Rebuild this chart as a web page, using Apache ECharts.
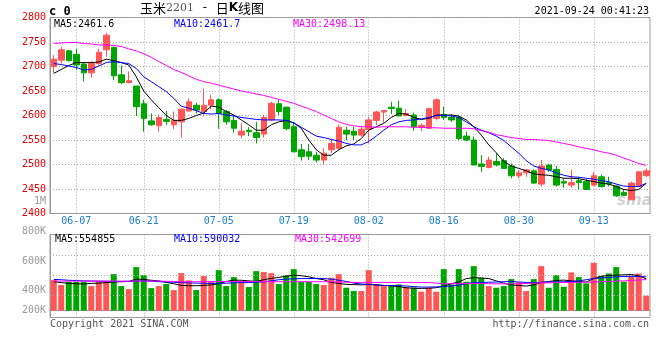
<!DOCTYPE html>
<html><head><meta charset="utf-8">
<script src="https://cdn.jsdelivr.net/npm/echarts@6/dist/echarts.min.js"></script>
<style>html,body{margin:0;padding:0;background:#fff}#c{width:660px;height:360px}</style>
</head><body><div id="c"></div>
<script>
const dates = ['06-02','06-03','06-04','06-07','06-08','06-09','06-10','06-11','06-15','06-16','06-17','06-18','06-21','06-22','06-23','06-24','06-25','06-28','06-29','06-30',
'07-01','07-02','07-05','07-06','07-07','07-08','07-09','07-12','07-13','07-14','07-15','07-16','07-19','07-20','07-21','07-22','07-23','07-26','07-27','07-28','07-29','07-30',
'08-02','08-03','08-04','08-05','08-06','08-09','08-10','08-11','08-12','08-13','08-16','08-17','08-18','08-19','08-20','08-23','08-24','08-25','08-26','08-27','08-30','08-31',
'09-01','09-02','09-03','09-06','09-07','09-08','09-09','09-10','09-13','09-14','09-15','09-16','09-17','09-22','09-23','09-24'];
const labelDates = ['06-07','06-21','07-05','07-19','08-02','08-16','08-30','09-13'];
const opens  = [2700,2713,2732,2725,2705,2687,2706,2734,2739,2683,2667,2660,2624,2589,2579,2592,2581,2587,2609,2621,2608,2621,2632,2608,2590,2560,2570,2565,2562,2591,2624,2617,2577,2530,2526,2519,2509,2530,2533,2570,2568,2560,2572,2590,2607,2617,2615,2600,2601,2576,2574,2594,2602,2596,2596,2558,2550,2501,2494,2506,2508,2497,2477,2483,2487,2460,2499,2490,2465,2458,2467,2465,2458,2475,2463,2456,2443,2428,2455,2477];
const closes = [2715,2734,2712,2703,2687,2706,2729,2764,2681,2667,2671,2618,2594,2581,2596,2588,2590,2613,2628,2611,2621,2632,2604,2587,2574,2568,2567,2555,2596,2625,2608,2573,2526,2516,2517,2509,2523,2543,2576,2562,2560,2572,2591,2607,2610,2614,2599,2604,2577,2580,2614,2632,2596,2591,2553,2550,2499,2496,2509,2499,2492,2477,2483,2489,2462,2497,2489,2458,2462,2463,2463,2449,2477,2455,2460,2436,2437,2462,2485,2487];
const lows   = [2687,2706,2710,2693,2669,2677,2703,2720,2672,2664,2666,2599,2567,2579,2567,2581,2572,2555,2608,2604,2599,2613,2573,2581,2565,2553,2558,2543,2555,2589,2601,2570,2525,2508,2509,2504,2499,2524,2530,2550,2550,2557,2543,2581,2585,2603,2599,2598,2569,2568,2573,2590,2591,2587,2550,2548,2499,2485,2492,2496,2492,2472,2472,2475,2461,2455,2485,2455,2453,2453,2449,2449,2455,2453,2455,2434,2436,2428,2455,2475];
const highs  = [2723,2740,2734,2736,2707,2711,2736,2769,2741,2702,2690,2661,2632,2604,2602,2610,2608,2614,2635,2626,2655,2642,2635,2611,2601,2585,2576,2587,2601,2628,2632,2618,2587,2542,2542,2526,2533,2553,2582,2577,2577,2577,2596,2610,2611,2628,2630,2613,2606,2584,2616,2635,2618,2603,2601,2567,2557,2519,2516,2523,2513,2502,2489,2490,2490,2509,2500,2497,2472,2489,2475,2470,2485,2479,2475,2458,2449,2465,2487,2492];
const ma5  = [2686,2694,2702,2708,2708,2708,2709,2715,2712,2708,2703,2679,2650,2632,2616,2600,2590,2590,2594,2600,2605,2619,2617,2608,2601,2591,2581,2570,2570,2581,2587,2590,2585,2574,2550,2530,2519,2519,2530,2538,2542,2553,2570,2577,2584,2596,2604,2603,2596,2592,2594,2601,2601,2601,2599,2591,2577,2560,2540,2524,2506,2497,2492,2487,2481,2479,2478,2475,2472,2472,2471,2468,2465,2462,2460,2455,2449,2447,2449,2461.6];
const ma10 = [2706,2704,2701,2698,2693,2694,2701,2708,2710,2708,2706,2696,2679,2669,2659,2649,2635,2619,2615,2610,2604,2603,2604,2601,2599,2596,2594,2592,2591,2591,2591,2590,2585,2576,2567,2558,2555,2551,2548,2543,2540,2540,2547,2558,2570,2581,2587,2590,2591,2593,2596,2600,2600,2599,2596,2587,2577,2570,2565,2558,2549,2536,2523,2508,2497,2492,2489,2483,2478,2475,2474,2472,2470,2467,2465,2460,2456,2455,2455,2461.7];
const ma30 = [2747,2748,2749,2749,2747,2746,2744,2744,2743,2741,2736,2732,2726,2719,2710,2702,2694,2688,2681,2674,2669,2666,2662,2658,2654,2650,2647,2644,2641,2637,2633,2629,2625,2619,2614,2608,2601,2594,2587,2582,2579,2577,2577,2576,2577,2577,2577,2577,2576,2576,2575,2575,2574,2574,2574,2574,2573,2569,2566,2561,2558,2555,2553,2551,2551,2550,2549,2546,2543,2540,2536,2533,2530,2526,2523,2519,2513,2508,2502,2498.13];
const volumes = [534,447,505,505,505,429,516,516,638,429,376,760,620,394,429,464,359,655,528,359,603,505,707,429,586,505,412,690,673,655,464,620,725,505,505,464,447,574,638,400,342,342,707,458,447,447,458,406,406,330,400,330,725,458,725,505,777,574,429,400,429,551,493,342,551,777,400,620,417,667,586,476,835,609,649,760,505,609,649,261].map(v => v * 1000);
const volMa5  = [505,490,476,470,465,476,480,490,500,505,510,551,545,530,520,493,470,440,435,435,440,450,470,510,534,530,520,510,540,563,580,600,620,610,590,560,540,493,475,458,455,450,458,450,440,435,420,400,390,388,392,400,430,470,500,560,575,570,560,520,480,450,440,429,450,490,510,525,534,520,505,500,560,600,615,620,625,632,610,554.855].map(v => v * 1000);
const volMa10 = [545,540,530,525,520,518,515,513,510,510,510,515,520,515,505,500,495,490,485,480,478,476,476,480,485,490,490,495,505,520,540,551,555,560,560,565,560,551,530,510,480,465,458,450,440,435,435,430,420,412,412,415,420,430,445,470,493,495,495,500,505,510,500,493,490,495,500,500,505,510,520,540,563,570,580,590,595,600,598,590.032].map(v => v * 1000);
const volMa30 = [516,516,516,516,516,516,516,516,516,516,516,516,516,516,516,513,510,505,505,505,508,508,508,508,508,508,508,506,505,505,505,505,505,505,505,505,505,505,500,496,493,493,493,493,493,493,493,493,493,493,490,480,470,470,472,475,475,475,470,468,468,468,470,475,480,485,485,490,493,493,495,497,500,505,510,515,520,525,535,542.699].map(v => v * 1000);
const priceLegend = ['MA5:2461.6', 'MA10:2461.7', 'MA30:2498.13'];
const volLegend = ['MA5:554855', 'MA10:590032', 'MA30:542699'];
const volTickLabels = ['800K', '600K', '400K', '200K'];

const RED = '#ff5555', GREEN = '#00a600';
const FONT = '"DejaVu Sans Mono", monospace';
const GRIDC = '#aaaaaa';
const isLabel = (i, v) => labelDates.indexOf(v) >= 0;
const chart = echarts.init(document.getElementById('c'));

const volColors = opens.map((o, i) => closes[i] >= o ? RED : GREEN);
const lineS = (name, data, color, xi, yi) => ({
  type: 'line', name, data, xAxisIndex: xi, yAxisIndex: yi, showSymbol: false, symbol: 'none',
  lineStyle: { color, width: 1 }, silent: true, z: 5
});
const vSplit = { show: true, interval: isLabel, alignWithLabel: true, lineStyle: { color: GRIDC, width: 1, type: [1, 2] } };

const txt = (text, x, y, fill, extra) => ({
  type: 'text', silent: true, z: 100,
  style: Object.assign({ text, x, y, fill, font: '10px ' + FONT, verticalAlign: 'middle' }, extra || {})
});
const volLabelY = [231, 261, 290, 310];

const option = {
  animation: false,
  backgroundColor: '#fff',
  grid: [
    { left: 50, top: 17.5, width: 600, height: 196, show: true, borderColor: '#999', borderWidth: 1 },
    { left: 50, top: 234.5, width: 600, height: 83, show: true, borderColor: '#999', borderWidth: 1 }
  ],
  xAxis: [
    { type: 'category', gridIndex: 0, data: dates, boundaryGap: true,
      axisLine: { lineStyle: { color: '#999', width: 1 } }, axisTick: { show: false },
      axisLabel: { interval: isLabel, color: '#1a7fd0', fontFamily: FONT, fontSize: 10, margin: 3 },
      splitLine: vSplit },
    { type: 'category', gridIndex: 1, data: dates, boundaryGap: true,
      axisLine: { lineStyle: { color: '#999', width: 1 } }, axisTick: { show: false },
      axisLabel: { show: false }, splitLine: vSplit }
  ],
  yAxis: [
    { type: 'value', gridIndex: 0, min: 2400, max: 2800, interval: 50,
      axisLine: { show: true, lineStyle: { color: '#999' } }, axisTick: { show: false },
      axisLabel: { color: '#ee0000', fontFamily: FONT, fontSize: 10, margin: 4, formatter: v => String(v) },
      splitLine: { show: true, lineStyle: { color: GRIDC, width: 1, type: [1, 2] } } },
    { type: 'value', gridIndex: 1, min: -120000, max: 1330000,
      axisLine: { show: true, lineStyle: { color: '#999' } }, axisTick: { show: false },
      axisLabel: { show: false }, splitLine: { show: false } }
  ],
  series: [
    { type: 'candlestick', xAxisIndex: 0, yAxisIndex: 0, barWidth: 6,
      data: dates.map((d, i) => [opens[i], closes[i], lows[i], highs[i]]),
      itemStyle: { color: RED, color0: GREEN, borderColor: RED, borderColor0: GREEN, borderWidth: 1 } },
    lineS('MA5', ma5, '#000000', 0, 0),
    lineS('MA10', ma10, '#0000ff', 0, 0),
    lineS('MA30', ma30, '#ff00ff', 0, 0),
    { type: 'bar', xAxisIndex: 1, yAxisIndex: 1, barWidth: 6,
      data: volumes.map((v, i) => ({ value: v, itemStyle: { color: volColors[i] } })),
      markLine: { silent: true, symbol: 'none', label: { show: false },
        lineStyle: { color: GRIDC, width: 1, type: [1, 2] },
        data: [{ yAxis: 264000 }, { yAxis: 612000 }, { yAxis: 960000 }] } },
    lineS('VMA5', volMa5, '#000000', 1, 1),
    lineS('VMA10', volMa10, '#0000ff', 1, 1),
    lineS('VMA30', volMa30, '#ff00ff', 1, 1)
  ],
  graphic: [
    txt('c 0', 49, 12, '#000', { font: 'bold 12px ' + FONT }),
    { type: 'text', silent: true, z: 100, style: {
      x: 140, y: 8, verticalAlign: 'middle',
      text: '{a|玉米}{b|2201}{s| - }{a|日}{k|K}{a|线图}',
      rich: {
        a: { font: '13px "Noto Sans CJK SC"', fill: '#000' },
        b: { font: '11px "DejaVu Serif"', fill: '#555' },
        s: { font: '12px ' + FONT, fill: '#000' },
        k: { font: 'bold 12px "DejaVu Sans"', fill: '#000' }
      } } },
    txt('2021-09-24 00:41:23', 649, 11, '#000', { align: 'right' }),
    txt(priceLegend[0], 54, 24, '#000'),
    txt(priceLegend[1], 174, 24, '#0000ff'),
    txt(priceLegend[2], 293, 24, '#ff00ff'),
    txt(volLegend[0], 55, 239, '#000'),
    txt(volLegend[1], 174, 239, '#0000ff'),
    txt(volLegend[2], 295, 239, '#ff00ff'),
    txt('1M', 46, 201, '#999', { align: 'right' }),
    txt(volTickLabels[0], 46, volLabelY[0], '#999', { align: 'right' }),
    txt(volTickLabels[1], 46, volLabelY[1], '#999', { align: 'right' }),
    txt(volTickLabels[2], 46, volLabelY[2], '#999', { align: 'right' }),
    txt(volTickLabels[3], 46, volLabelY[3], '#999', { align: 'right' }),
    txt('Copyright 2021 SINA.COM', 50, 324, '#555'),
    txt('http://finance.sina.com.cn', 649, 324, '#555', { align: 'right' }),
    { type: 'text', silent: true, z: 1, style: { text: 'sina', x: 617, y: 201, verticalAlign: 'middle',
      font: 'italic bold 15px "DejaVu Sans"', fill: 'rgba(180,180,180,0.6)' } }
  ]
};
chart.setOption(option);
</script></body></html>
